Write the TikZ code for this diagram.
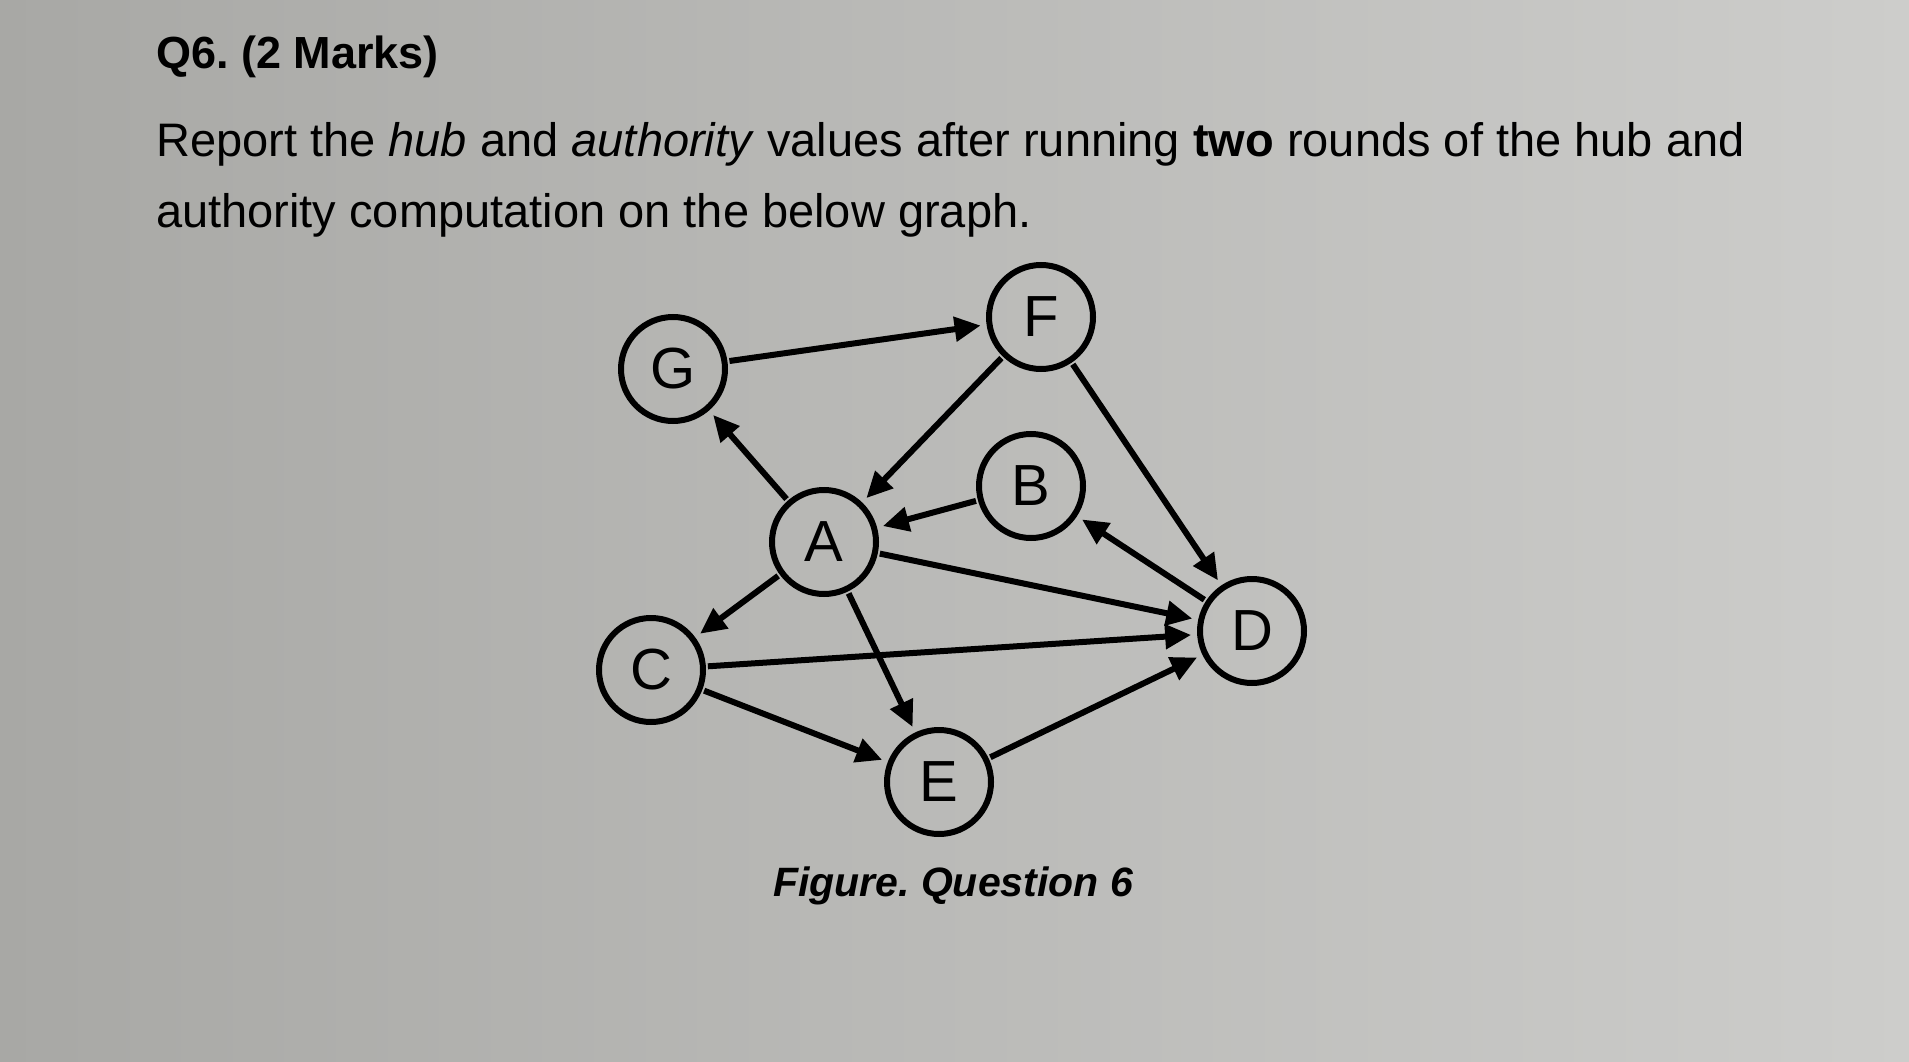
\documentclass[tikz,border=0pt]{standalone}
\usepackage{fontspec}
\setmainfont{Liberation Sans}
\usetikzlibrary{arrows.meta}
\definecolor{bgl}{RGB}{168,168,165}
\definecolor{bgr}{RGB}{205,205,203}
\begin{document}
\frenchspacing
\begin{tikzpicture}[x=1pt,y=-1pt,
  vert/.style={circle,draw=black,line width=6pt,minimum size=104pt,inner sep=0pt,font=\fontsize{58}{60}\selectfont,fill=none},
  edge/.style={line width=6pt,-{Triangle[length=26pt,width=24pt]},shorten >=6pt,shorten <=2pt},
  txt/.style={anchor=west,font=\fontsize{47}{52}\selectfont,inner sep=0pt}]
\shade[left color=bgl,right color=bgr] (0,0) rectangle (1909,1062);
\useasboundingbox (0,0) rectangle (1909,1062);
\node[txt,font=\fontsize{45}{50}\selectfont\bfseries] (q) at (156,57) {Q6. (2 Marks)};
\node[txt] (l1) at (156,144) {Report the \textit{hub} and \textit{authority} values after running \textbf{two} rounds of the hub and};
\node[txt] (l2) at (156,215) {authority computation on the below graph.};
\node (cap) at (953,886) {\fontsize{41}{44}\selectfont\bfseries\itshape Figure. Question 6};
\node[vert] (G) at (673,369) {G};
\node[vert] (F) at (1041,317) {F};
\node[vert] (B) at (1031,486) {B};
\node[vert] (A) at (824,542) {A};
\node[vert] (C) at (651,670) {C};
\node[vert] (D) at (1252,631) {D};
\node[vert] (E) at (939,782) {E};
\draw[edge] (G) -- (F);
\draw[edge] (F) -- (A);
\draw[edge] (A) -- (G);
\draw[edge] (B) -- (A);
\draw[edge] (D) -- (B);
\draw[edge] (F) -- (D);
\draw[edge] (A) -- (D);
\draw[edge] (A) -- (C);
\draw[edge] (A) -- (E);
\draw[edge] (C) -- (D);
\draw[edge] (C) -- (E);
\draw[edge] (E) -- (D);
\end{tikzpicture}
\end{document}
